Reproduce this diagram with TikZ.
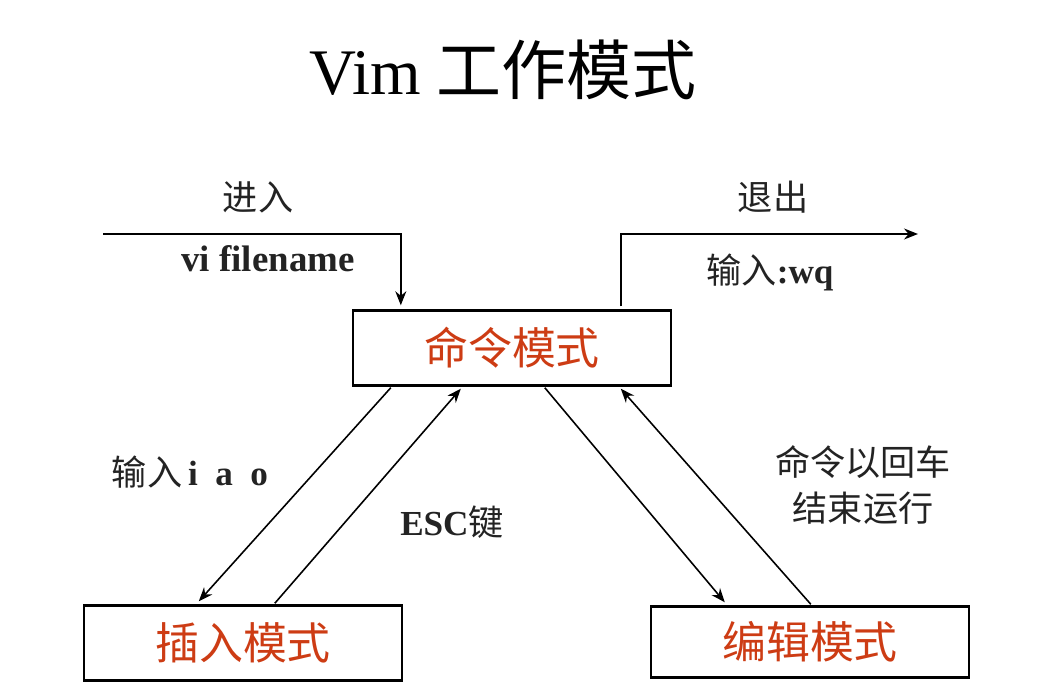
\documentclass[tikz,border=0pt]{standalone}
\usepackage{fontspec}
\setmainfont{Liberation Serif}
\newfontfamily\cjk{Noto Sans CJK SC}
\usepackage{xcolor}
\usetikzlibrary{arrows.meta,calc}
\definecolor{modered}{RGB}{205,60,20}
\definecolor{txtgray}{RGB}{35,35,35}
\tikzset{
  mode/.style={draw,line width=1.4pt,fill=white,inner sep=0pt,minimum width=6.36cm,minimum height=1.5cm,text=modered,font=\cjk\fontsize{25}{30}\selectfont},
  lbl/.style={text=txtgray,font=\cjk\fontsize{20}{26}\selectfont,align=center},
  kbd/.style={text=txtgray,font=\bfseries\fontsize{21}{26}\selectfont},
  ar/.style={line width=0.9pt,-{Stealth[length=2.8mm,width=2.2mm]}}
}

\begin{document}
\begin{tikzpicture}[x=0.02cm,y=-0.02cm]
\useasboundingbox (0,0) rectangle (1061,685);
\node (title) at (503,70) {\fontsize{37}{44}\selectfont Vim {\cjk 工作模式}};
% the three modes
\node[mode] (cmdm) at (512,348) {命令模式};
\node[mode] (insm) at (243,643) {插入模式};
\node[mode,minimum height=1.42cm] (editm) at (810,642) {编辑模式};
% enter / leave
\coordinate (enterin) at (103,234);
\coordinate (exitout) at (918,234);
\draw[ar] (enterin) -| ($(cmdm.north west)+(49,-4)$);
\draw[ar] ($(cmdm.north west)+(269,-3)$) |- (exitout);
\node[lbl] (enterl) at (258,197) {进入};
\node[kbd] (vil) at (268,259) {vi filename};
\node[lbl] (exitl) at (773,197) {退出};
\node[lbl] (wql) at (770,272) {输入{\rmfamily\bfseries :wq}};
% between the modes
\draw[ar] ($(cmdm.south west)+(39,1)$) -- ($(insm.north west)+(116,-3)$);
\draw[ar] ($(insm.north west)+(192,-1)$) -- ($(cmdm.south west)+(109,2)$);
\draw[ar] ($(cmdm.south west)+(193,1)$) -- ($(editm.north west)+(75,-3)$);
\draw[ar] ($(editm.north west)+(161,-1)$) -- ($(cmdm.south west)+(269,2)$);
\node[lbl] (iaol) at (190,472) {输入\,{\rmfamily\bfseries i\enspace a\enspace o}};
\node[lbl] (escl) at (452,522) {{\rmfamily\bfseries ESC}键};
\node[lbl] (runl) at (863,485) {命令以回车\\结束运行};
\end{tikzpicture}
\end{document}
